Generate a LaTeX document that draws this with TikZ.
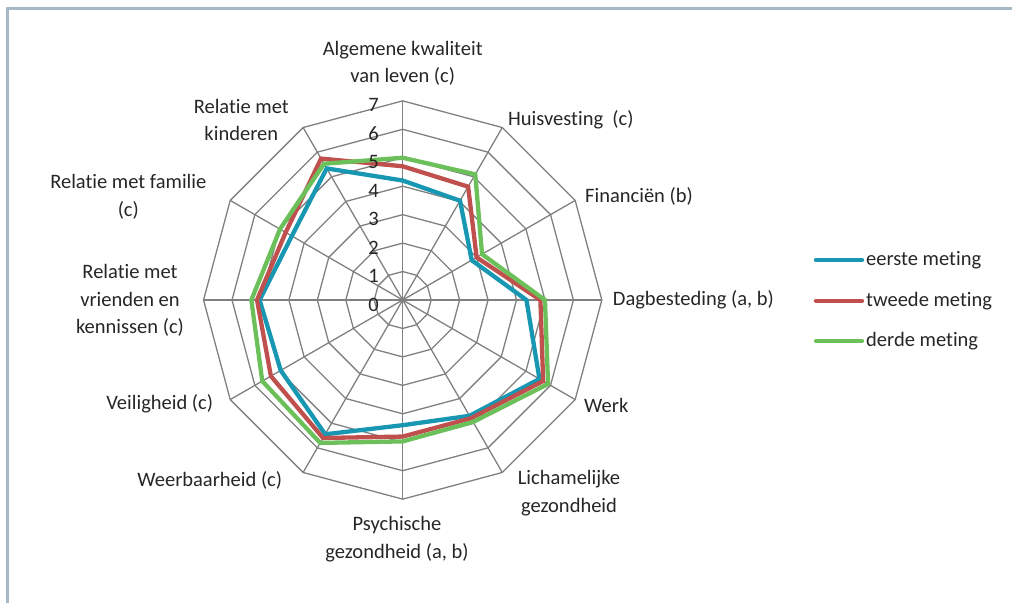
\documentclass[tikz,border=0pt]{standalone}
\usepackage{fontspec}
\setmainfont{Carlito}[Ligatures=NoCommon]
\definecolor{framegray}{HTML}{A5B8C4}
\definecolor{gridgray}{HTML}{808080}
\definecolor{eerste}{HTML}{1797B1}
\definecolor{tweede}{HTML}{C0504D}
\definecolor{derde}{HTML}{6CC05A}
\definecolor{labeltext}{HTML}{262626}
\tikzset{
  spoke/.style={gridgray, line width=1.3pt},
  series/.style={line width=4.3pt, line join=miter, miter limit=4},
  legendline/.style={line width=4.3pt, line cap=round},
  axislabel/.style={font=\fontsize{20.5}{27.5}\selectfont, text=labeltext, align=center, inner sep=0pt},
}

\begin{document}
\begin{tikzpicture}[x=1pt,y=1pt]
        \useasboundingbox (0,0) rectangle (1012,-603);

        % Frame
        \draw[framegray,line width=2.5pt] (7.5,-603) -- (7.5,-8.3) -- (1012,-8.3);

        \begin{scope}[shift={(402.7,-300)},x=28.45pt,y=28.45pt]
          % Grid
          \foreach \r in {1,...,7}
            \draw[spoke] (90:\r) \foreach \k in {1,...,11} { -- ({90-30*\k}:\r) } -- cycle;
          \foreach \k in {0,...,11}
            \draw[spoke] (0,0) -- ({90-30*\k}:7);

          % eerste meting
          \draw[series,eerste] (90:4.2) -- (60:4.03) -- (30:2.8) -- (0:4.35) -- (-30:5.55) -- (-60:4.7)
            -- (-90:4.4) -- (-120:5.45) -- (-150:4.95) -- (180:5.03) -- (150:4.5) -- (120:5.34) -- cycle;

          % tweede meting
          \draw[series,tweede] (90:4.7) -- (60:4.6) -- (30:3.0) -- (0:4.84) -- (-30:5.7) -- (-60:4.8)
            -- (-90:4.8) -- (-120:5.6) -- (-150:5.35) -- (180:5.12) -- (150:4.75) -- (120:5.74) -- cycle;

          % derde meting
          \draw[series,derde] (90:5.0) -- (60:5.1) -- (30:3.22) -- (0:5.0) -- (-30:5.9) -- (-60:4.95)
            -- (-90:4.97) -- (-120:5.8) -- (-150:5.7) -- (180:5.32) -- (150:4.98) -- (120:5.53) -- cycle;
        \end{scope}

        % Scale values
        \foreach \r in {0,...,7}
          \node[axislabel,anchor=east] (tick\r) at (379,{-304.5+\r*28.45}) {\r};

        % Axis labels
        \node[axislabel] (lblAlgemene) at (402.7,-63.5) {Algemene kwaliteit\\van leven (c)};
        \node[axislabel,anchor=west] (lblHuisvesting) at (508,-120) {Huisvesting~~(c)};
        \node[axislabel,anchor=west] (lblFinancien) at (585,-196.7) {Financiën (b)};
        \node[axislabel,anchor=west] (lblDagbesteding) at (612.7,-300) {Dagbesteding (a, b)};
        \node[axislabel,anchor=west] (lblWerk) at (584,-405) {Werk};
        \node[axislabel] (lblLichamelijk) at (569,-493.3) {Lichamelijke\\gezondheid};
        \node[axislabel] (lblPsychisch) at (397,-539) {Psychische\\gezondheid (a, b)};
        \node[axislabel,anchor=east] (lblWeerbaarheid) at (282.3,-480) {Weerbaarheid (c)};
        \node[axislabel,anchor=east] (lblVeiligheid) at (213.3,-404) {Veiligheid (c)};
        \node[axislabel] (lblVrienden) at (130,-300.5) {Relatie met\\vrienden en\\kennissen (c)};
        \node[axislabel] (lblFamilie) at (128.3,-196.7) {Relatie met familie\\(c)};
        \node[axislabel] (lblKinderen) at (241.3,-119.7) {Relatie met\\kinderen};

        % Legend
        \node[axislabel,anchor=west] (legEerste) at (866,-260) {eerste meting};
        \node[axislabel,anchor=west] (legTweede) at (866,-300.7) {tweede meting};
        \node[axislabel,anchor=west] (legDerde) at (866,-341) {derde meting};
        \draw[legendline,eerste] ([xshift=-4pt]legEerste.west) -- ++(-46,0);
        \draw[legendline,tweede] ([xshift=-4pt]legTweede.west) -- ++(-46,0);
        \draw[legendline,derde] ([xshift=-4pt]legDerde.west) -- ++(-46,0);
\end{tikzpicture}
\end{document}
